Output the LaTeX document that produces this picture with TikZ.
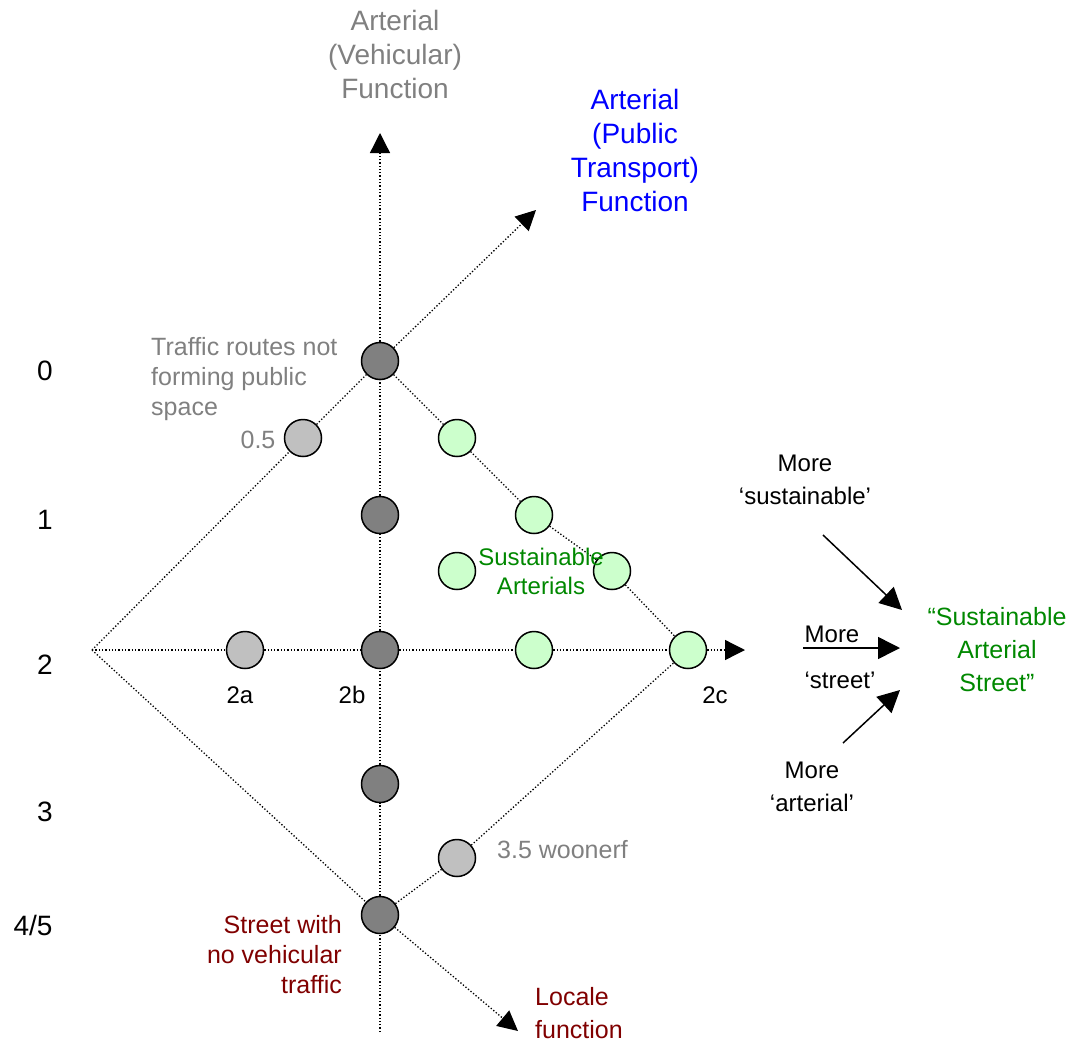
\documentclass[tikz,border=0pt]{standalone}
\usepackage{fontspec}
\setmainfont{Liberation Sans}
\usetikzlibrary{arrows.meta}

\definecolor{darkdot}{RGB}{128,128,128}
\definecolor{greydot}{RGB}{192,192,192}
\definecolor{greendot}{RGB}{204,255,204}
\definecolor{textgrey}{RGB}{128,128,128}
\definecolor{textgreen}{RGB}{0,136,0}
\definecolor{textred}{RGB}{128,0,0}

\begin{document}
\begin{tikzpicture}[x=1pt, y=-1pt, >={Triangle[length=20pt,width=20pt]},
    dot/.style={circle, draw, line width=1.5pt, minimum size=37pt, inner sep=0pt},
    axis/.style={dotted, line width=1.3pt},
    push/.style={line width=1.5pt, -{Triangle[length=22pt,width=22pt]}},
    biglabel/.style={font=\fontsize{28}{34}\selectfont, align=center, inner sep=0pt},
    midlabel/.style={font=\fontsize{25}{30}\selectfont, inner sep=0pt},
    smalllabel/.style={font=\fontsize{24}{33}\selectfont, align=center, inner sep=0pt}]
  \useasboundingbox (0,0) rectangle (1076,1044);

  % circles
  \node[dot, fill=darkdot] (c0) at (380,361) {};
  \node[dot, fill=darkdot] (c1) at (380,515) {};
  \node[dot, fill=darkdot] (c2b) at (380,650) {};
  \node[dot, fill=darkdot] (c3) at (380,784) {};
  \node[dot, fill=darkdot] (c45) at (380,915) {};
  \node[dot, fill=greydot] (c05) at (303,438) {};
  \node[dot, fill=greydot] (c2a) at (245,650) {};
  \node[dot, fill=greydot] (c35) at (457,858) {};
  \node[dot, fill=greendot] (g1) at (457,438) {};
  \node[dot, fill=greendot] (g2) at (534,515) {};
  \node[dot, fill=greendot] (g3) at (612,571) {};
  \node[dot, fill=greendot] (g4) at (457,571) {};
  \node[dot, fill=greendot] (g2m) at (534,650) {};
  \node[dot, fill=greendot] (c2c) at (688,650) {};

  \coordinate (left) at (92,650);
  \coordinate (bottom) at (380,1032);
  \coordinate (vehtip) at (380,133);
  \coordinate (pttip) at (536,210);
  \coordinate (sttip) at (745,650);
  \coordinate (loctip) at (518,1031);

  % dotted axes
  \draw[axis] (bottom) -- (c45) -- (c3) -- (c2b) -- (c1) -- (c0);
  \draw[axis, ->] (c0) -- (vehtip);
  \draw[axis, ->] (c0) -- (pttip);
  \draw[axis] (left) -- (c05) -- (c0);
  \draw[axis] (c0) -- (g1) -- (g2) -- (g3) -- (c2c);
  \draw[axis] (left) -- (c2a) -- (c2b) -- (g2m) -- (c2c);
  \draw[axis, ->] (c2c) -- (sttip);
  \draw[axis] (left) -- (c45);
  \draw[axis] (c45) -- (c35) -- (c2c);
  \draw[axis, ->] (c45) -- (loctip);

  % level numbers
  \node[biglabel] (n0) at (45,371) {0};
  \node[biglabel] (n1) at (45,520) {1};
  \node[biglabel] (n2) at (45,665) {2};
  \node[biglabel] (n3) at (45,812) {3};
  \node[biglabel] (n45) at (33,925) {4/5};

  % function labels
  \node[biglabel, text=textgrey] (veh) at (395,54) {Arterial\\(Vehicular)\\Function};
  \node[biglabel, text=blue] (pt) at (635,150) {Arterial\\(Public\\Transport)\\Function};
  \node[midlabel, text=textgrey, align=left, anchor=west] (routes) at (151,379) {Traffic routes not\\forming public\\space};
  \node[midlabel, text=textgrey] (half) at (258,440) {0.5};
  \node[smalllabel, text=textgreen, font=\fontsize{24}{29}\selectfont] (sa) at (541,571) {Sustainable\\Arterials};
  \node[smalllabel] (l2a) at (240,695) {2a};
  \node[smalllabel] (l2b) at (352,695) {2b};
  \node[smalllabel] (l2c) at (715,695) {2c};
  \node[midlabel, text=textgrey, anchor=west] (woonerf) at (497,850) {3.5 woonerf};
  \node[midlabel, text=textred, align=right, anchor=east] (nocar) at (342,955) {Street with\\no vehicular\\traffic};
  \node[midlabel, text=textred, align=left, anchor=west, font=\fontsize{25}{33}\selectfont] (locale) at (535,1013) {Locale\\function};

  % towards the sustainable arterial street
  \node[smalllabel, font=\fontsize{25}{33}\selectfont, text=textgreen] (goal) at (997,650) {“Sustainable\\Arterial\\Street”};
  \node[smalllabel] (moresus) at (805,480) {More\\‘sustainable’};
  \node[smalllabel] (morest) at (832,634) {More};
  \node[smalllabel] (street) at (840,680) {‘street’};
  \node[smalllabel] (moreart) at (812,787) {More\\‘arterial’};
  \coordinate (susa) at (823,535);
  \coordinate (susb) at (902,610);
  \coordinate (sta) at (803,648);
  \coordinate (stb) at (900,648);
  \coordinate (arta) at (843,743);
  \coordinate (artb) at (900,690);
  \draw[push] (susa) -- (susb);
  \draw[push] (sta) -- (stb);
  \draw[push] (arta) -- (artb);
\end{tikzpicture}
\end{document}
